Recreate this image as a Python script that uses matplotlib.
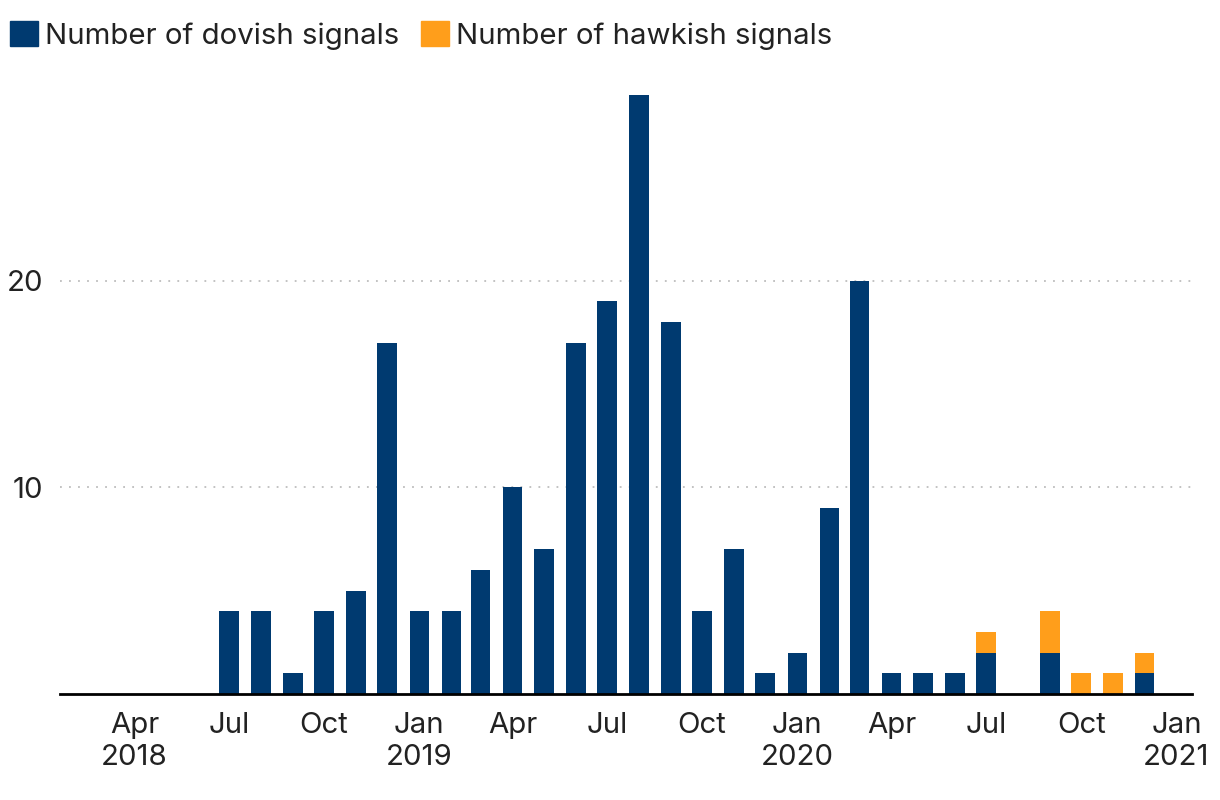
import numpy as np
import pandas as pd
import matplotlib.pyplot as plt
import matplotlib.dates as mdates
from matplotlib.patches import Patch

plt.rcParams['font.family'] = ['Inter', 'DejaVu Sans']

# Monthly signal counts, Jul 2018 - Dec 2020
months = pd.date_range('2018-07-01', '2020-12-01', freq='MS')
dovish = [4, 4, 1, 4, 5, 17,
          4, 4, 6, 10, 7, 17, 19, 29, 18, 4, 7, 1,
          2, 9, 20, 1, 1, 1, 2, 0, 2, 0, 0, 1]
hawkish = [0, 0, 0, 0, 0, 0,
           0, 0, 0, 0, 0, 0, 0, 0, 0, 0, 0, 0,
           0, 0, 0, 0, 0, 0, 1, 0, 2, 1, 1, 1]

tick_dates = pd.date_range('2018-04-01', '2021-01-01', freq='QS')
tick_labels = []
for d in tick_dates:
    if d.month == 1 or d == tick_dates[0]:
        tick_labels.append(d.strftime('%b') + '\n' + str(d.year))
    else:
        tick_labels.append(d.strftime('%b'))

DOVE = '#003a70'
HAWK = '#ff9e1b'
TEXT = '#222222'
FS = 21.2

fig = plt.figure(figsize=(12.2, 8), dpi=100)
ax = fig.add_axes([60 / 1220, 106 / 800, 1132 / 1220, 620 / 800])

x = mdates.date2num(months)
width = 19
ax.bar(x, dovish, width=width, color=DOVE, zorder=3)
ax.bar(x, hawkish, width=width, bottom=dovish, color=HAWK, zorder=3)

ax.set_xlim(mdates.date2num(pd.Timestamp('2018-01-19')),
            mdates.date2num(pd.Timestamp('2021-01-16')))
ax.set_ylim(0, 30)

ax.set_xticks(mdates.date2num(tick_dates))
ax.set_xticklabels(tick_labels, fontsize=FS, color=TEXT, linespacing=1.25)
ax.set_yticks([10, 20])
ax.set_yticklabels(['10', '20'], fontsize=FS, color=TEXT)
ax.tick_params(axis='x', length=0, pad=13)
ax.tick_params(axis='y', length=0, pad=12)

ax.grid(axis='y', linestyle=(0, (1, 4)), color='#bdbdbd', linewidth=1.3, zorder=0)
for s in ['top', 'right', 'left']:
    ax.spines[s].set_visible(False)
ax.spines['bottom'].set_linewidth(2)
ax.spines['bottom'].set_color('black')
ax.spines['bottom'].set_zorder(4)

handles = [Patch(color=DOVE, label='Number of dovish signals'),
           Patch(color=HAWK, label='Number of hawkish signals')]
fig.legend(handles=handles, loc='upper left', bbox_to_anchor=(-0.0132, 1.007),
           ncol=2, frameon=False, fontsize=FS, handlelength=0.95,
           handleheight=0.95, handletextpad=0.22, columnspacing=0.75,
           borderaxespad=0.5, labelcolor=TEXT)

fig.savefig('out.png', dpi=100)
